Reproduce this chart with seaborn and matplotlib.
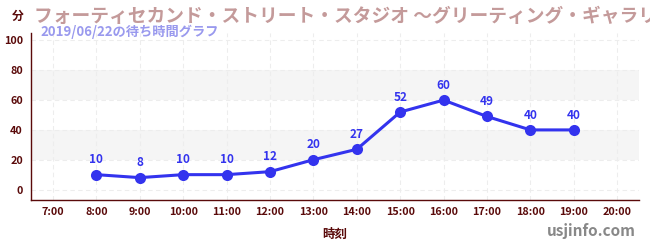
import matplotlib
matplotlib.use("Agg")
import matplotlib.pyplot as plt
import seaborn as sns
import pandas as pd
from matplotlib.ticker import MultipleLocator

tick_labels = ["7:00", "8:00", "9:00", "10:00", "11:00", "12:00", "13:00",
               "14:00", "15:00", "16:00", "17:00", "18:00", "19:00", "20:00"]
times = ["8:00", "9:00", "10:00", "11:00", "12:00", "13:00", "14:00",
         "15:00", "16:00", "17:00", "18:00", "19:00"]
waits = [10, 8, 10, 10, 12, 20, 27, 52, 60, 49, 40, 40]

title = "フォーティセカンド・ストリート・スタジオ ～グリーティング・ギャラリー～"
subtitle = "2019/06/22の待ち時間グラフ"

sns.set_theme(style="white")
plt.rcParams['font.family'] = ['Noto Sans CJK JP', 'DejaVu Sans']

df = pd.DataFrame({"pos": [tick_labels.index(t) for t in times], "wait": waits})

fig = plt.figure(figsize=(6.5, 2.5), dpi=100)
ax = fig.add_axes([0.048, 0.2, 0.935, 0.668])

dark = "#5a0a0a"
blue = "#3333ee"

for lo, hi in [(20, 40), (60, 80)]:
    ax.axhspan(lo, hi, color="#f5f5f5", zorder=0, lw=0)
for y in range(0, 101, 20):
    ax.axhline(y, color="#ededed", lw=0.8, ls=(0, (4, 3)), zorder=0.5)
for x in range(len(tick_labels)):
    ax.axvline(x, color="#ededed", lw=0.8, ls=(0, (4, 3)), zorder=0.5)

sns.lineplot(data=df, x="pos", y="wait", ax=ax, color=blue, lw=2.2,
             marker="o", markersize=8, markeredgewidth=0, zorder=3)
for p, w in zip(df["pos"], df["wait"]):
    ax.annotate(str(w), (p, w), xytext=(0, 6), textcoords="offset points",
                ha="center", va="bottom", color=blue, fontsize=8.5,
                fontweight="bold", zorder=4)

ax.set_xlim(-0.5, 13.5)
ax.set_ylim(-7, 105)
ax.set_xticks(range(len(tick_labels)))
ax.set_xticklabels(tick_labels)
ax.set_yticks(range(0, 101, 20))
ax.yaxis.set_minor_locator(MultipleLocator(10))
ax.tick_params(axis="both", which="major", labelsize=7.8, colors=dark,
               length=4, width=0.8, direction="out", pad=2)
ax.tick_params(axis="y", which="minor", length=3, color="#dd2222", width=0.8)
ax.tick_params(axis="x", which="major", length=3)
for lab in ax.get_xticklabels() + ax.get_yticklabels():
    lab.set_color(dark)
    lab.set_fontweight("bold")
for s in ["top", "right"]:
    ax.spines[s].set_visible(False)
for s in ["left", "bottom"]:
    ax.spines[s].set_color(dark)
    ax.spines[s].set_linewidth(1)
ax.set_xlabel("時刻", color=dark, fontsize=9, fontweight="bold", labelpad=8)
ax.set_ylabel("")

fig.text(0.018, 0.935, "分", color=dark, fontsize=8.5, fontweight="bold",
         ha="left", va="center")
fig.text(0.053, 0.935, title, color="#c49a9a", fontsize=13.5, fontweight="bold",
         ha="left", va="center")
fig.text(0.062, 0.873, subtitle, color="#9999ee", fontsize=9.5,
         fontweight="bold", ha="left", va="center")
fig.text(0.978, 0.075, "usjinfo.com", color="#888888", fontsize=11,
         fontweight="bold", ha="right", va="center")

fig.savefig("out.png", dpi=100)
